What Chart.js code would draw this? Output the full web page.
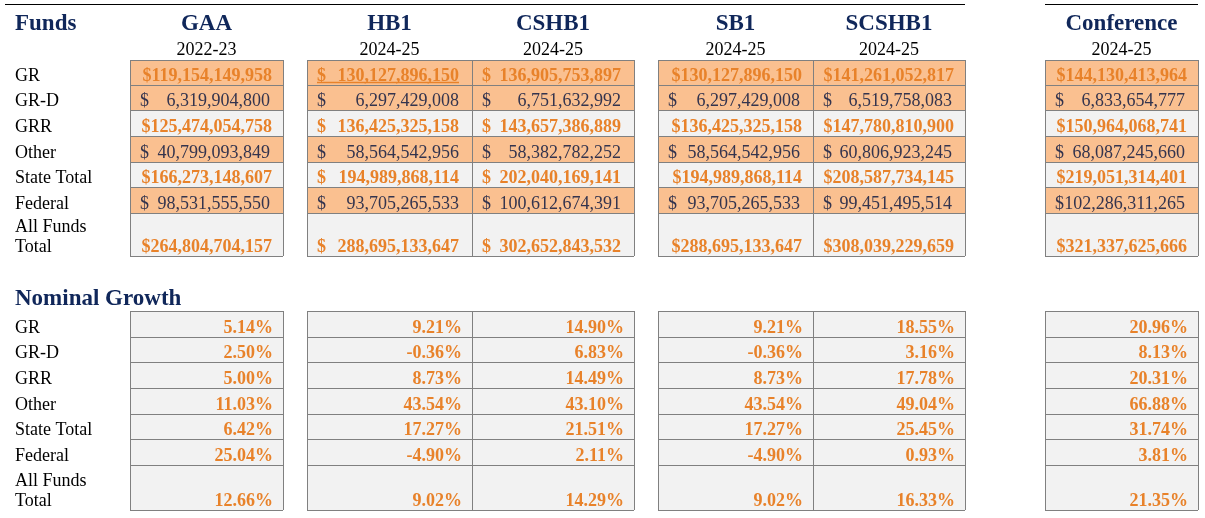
<!DOCTYPE html>
<html>
<head>
<meta charset="utf-8">
<script src="https://cdn.jsdelivr.net/npm/chart.js@4/dist/chart.umd.min.js"></script>
<style>
  html, body { margin: 0; padding: 0; background: #fff; }
  #wrap { width: 1205px; height: 518px; }
</style>
</head>
<body>
<div id="wrap"><canvas id="table" width="1205" height="518"></canvas></div>
<script>
// Datos
const rowLabels = ['GR', 'GR-D', 'GRR', 'Other', 'State Total', 'Federal', 'All Funds\nTotal'];
const columns = ['GAA', 'HB1', 'CSHB1', 'SB1', 'SCSHB1', 'Conference'];
const years = ['2022-23', '2024-25', '2024-25', '2024-25', '2024-25', '2024-25'];

const gaaFunds = [119154149958, 6319904800, 125474054758, 40799093849, 166273148607, 98531555550, 264804704157];
const hb1Funds = [130127896150, 6297429008, 136425325158, 58564542956, 194989868114, 93705265533, 288695133647];
const cshb1Funds = [136905753897, 6751632992, 143657386889, 58382782252, 202040169141, 100612674391, 302652843532];
const sb1Funds = [130127896150, 6297429008, 136425325158, 58564542956, 194989868114, 93705265533, 288695133647];
const scshb1Funds = [141261052817, 6519758083, 147780810900, 60806923245, 208587734145, 99451495514, 308039229659];
const confFunds = [144130413964, 6833654777, 150964068741, 68087245660, 219051314401, 102286311265, 321337625666];

const gaaGrowth = [5.14, 2.50, 5.00, 11.03, 6.42, 25.04, 12.66];
const hb1Growth = [9.21, -0.36, 8.73, 43.54, 17.27, -4.90, 9.02];
const cshb1Growth = [14.90, 6.83, 14.49, 43.10, 21.51, 2.11, 14.29];
const sb1Growth = [9.21, -0.36, 8.73, 43.54, 17.27, -4.90, 9.02];
const scshb1Growth = [18.55, 3.16, 17.78, 49.04, 25.45, 0.93, 16.33];
const confGrowth = [20.96, 8.13, 20.31, 66.88, 31.74, 3.81, 21.35];

const fundsByColumn = [gaaFunds, hb1Funds, cshb1Funds, sb1Funds, scshb1Funds, confFunds];
const growthByColumn = [gaaGrowth, hb1Growth, cshb1Growth, sb1Growth, scshb1Growth, confGrowth];

// filas resaltadas (negrita naranja) vs normales
const boldRows = [true, false, true, false, true, false, true];

// Diseño (coordenadas de la hoja)
const colEdges = [[130, 283], [307, 472], [472, 634], [658, 813], [813, 965], [1045, 1198]];
const fundRowEdges = [60, 85, 110, 136, 162, 187, 213, 256];
const growthRowEdges = [311, 337, 362, 388, 414, 439, 465, 510];
const accountingCols = [false, true, true, false, false, false];

const ORANGE_FILL = '#FAC090';
const GRAY_FILL = '#F2F2F2';
const BORDER = '#808080';
const ORANGE_TEXT = '#E8822A';
const DARK_TEXT = '#34344E';
const NAVY = '#10275A';
const SERIF = '"Liberation Serif", "Times New Roman", serif';

function fmtMoney(v) {
    return v.toLocaleString('en-US');
}

function fmtPct(v) {
    return v.toFixed(2) + '%';
}

const tablePlugin = {
    id: 'tablePlugin',
    afterDraw(chart) {
        const ctx = chart.ctx;
        const sx = chart.scales.x;
        const sy = chart.scales.y;
        const px = v => sx.getPixelForValue(v);
        const py = v => sy.getPixelForValue(v);

        ctx.save();

        // linea superior
        ctx.strokeStyle = '#000';
        ctx.lineWidth = 1;
        ctx.beginPath();
        ctx.moveTo(px(5), py(4.5)); ctx.lineTo(px(965), py(4.5));
        ctx.moveTo(px(1045), py(4.5)); ctx.lineTo(px(1198), py(4.5));
        ctx.stroke();

        // encabezados
        ctx.fillStyle = NAVY;
        ctx.font = 'bold 23px ' + SERIF;
        ctx.textAlign = 'left';
        ctx.textBaseline = 'alphabetic';
        ctx.fillText('Funds', px(15), py(30));
        ctx.fillText('Nominal Growth', px(15), py(305));
        ctx.textAlign = 'center';
        columns.forEach((c, j) => {
            const mid = (colEdges[j][0] + colEdges[j][1]) / 2;
            ctx.fillStyle = NAVY;
            ctx.font = 'bold 23px ' + SERIF;
            ctx.fillText(c, px(mid), py(30));
            ctx.fillStyle = '#000';
            ctx.font = '18px ' + SERIF;
            ctx.fillText(years[j], px(mid), py(55));
        });

        // etiquetas de filas
        function drawLabels(edges) {
            ctx.fillStyle = '#000';
            ctx.font = '18px ' + SERIF;
            ctx.textAlign = 'left';
            rowLabels.forEach((lab, i) => {
                const lines = lab.split('\n');
                const bottom = edges[i + 1] - 4;
                lines.forEach((ln, k) => {
                    ctx.fillText(ln, px(15), py(bottom - (lines.length - 1 - k) * 20));
                });
            });
        }
        drawLabels(fundRowEdges);
        drawLabels(growthRowEdges);

        // celdas
        function drawCells(edges, fillFor) {
            columns.forEach((c, j) => {
                const [x0, x1] = colEdges[j];
                rowLabels.forEach((lab, i) => {
                    const y0 = edges[i], y1 = edges[i + 1];
                    ctx.fillStyle = fillFor(i);
                    ctx.fillRect(px(x0), py(y0), px(x1) - px(x0), py(y1) - py(y0));
                });
                ctx.strokeStyle = BORDER;
                ctx.lineWidth = 1;
                ctx.beginPath();
                edges.forEach(y => {
                    ctx.moveTo(px(x0), py(y) + 0.5);
                    ctx.lineTo(px(x1), py(y) + 0.5);
                });
                ctx.moveTo(px(x0) + 0.5, py(edges[0]));
                ctx.lineTo(px(x0) + 0.5, py(edges[edges.length - 1]));
                ctx.moveTo(px(x1) + 0.5, py(edges[0]));
                ctx.lineTo(px(x1) + 0.5, py(edges[edges.length - 1]));
                ctx.stroke();
            });
        }
        drawCells(fundRowEdges, i => (i === 2 || i === 4 || i === 6) ? GRAY_FILL : ORANGE_FILL);
        drawCells(growthRowEdges, () => GRAY_FILL);

        // valores de fondos
        fundsByColumn.forEach((vals, j) => {
            const [x0, x1] = colEdges[j];
            vals.forEach((v, i) => {
                const base = py(fundRowEdges[i + 1] - 4);
                const bold = boldRows[i];
                ctx.fillStyle = bold ? ORANGE_TEXT : DARK_TEXT;
                ctx.font = (bold ? 'bold ' : '') + '18px ' + SERIF;
                const txt = fmtMoney(v);
                if (accountingCols[j] || !bold) {
                    ctx.textAlign = 'left';
                    ctx.fillText('$', px(x0 + 10), base);
                    ctx.textAlign = 'right';
                    ctx.fillText(txt, px(x1 - 13), base);
                } else {
                    ctx.textAlign = 'right';
                    ctx.fillText('$' + txt, px(x1 - 11), base);
                }
                // subrayado en HB1 GR
                if (j === 1 && i === 0) {
                    ctx.strokeStyle = ORANGE_TEXT;
                    ctx.lineWidth = 1.5;
                    ctx.beginPath();
                    ctx.moveTo(px(x0 + 10), base + 1.5);
                    ctx.lineTo(px(x1 - 13), base + 1.5);
                    ctx.stroke();
                }
            });
        });

        // crecimiento nominal
        ctx.fillStyle = ORANGE_TEXT;
        ctx.font = 'bold 18px ' + SERIF;
        ctx.textAlign = 'right';
        growthByColumn.forEach((vals, j) => {
            const x1 = colEdges[j][1];
            vals.forEach((v, i) => {
                ctx.fillText(fmtPct(v), px(x1 - 10), py(growthRowEdges[i + 1] - 4));
            });
        });

        ctx.restore();
    }
};

new Chart(document.getElementById('table'), {
    type: 'scatter',
    data: { datasets: [{ data: [] }] },
    options: {
        responsive: false,
        animation: false,
        layout: { padding: 0 },
        plugins: { legend: { display: false }, tooltip: { enabled: false } },
        scales: {
            x: { type: 'linear', min: 0, max: 1205, display: false },
            y: { type: 'linear', min: 0, max: 518, reverse: true, display: false }
        }
    },
    plugins: [tablePlugin]
});
</script>
</body>
</html>
